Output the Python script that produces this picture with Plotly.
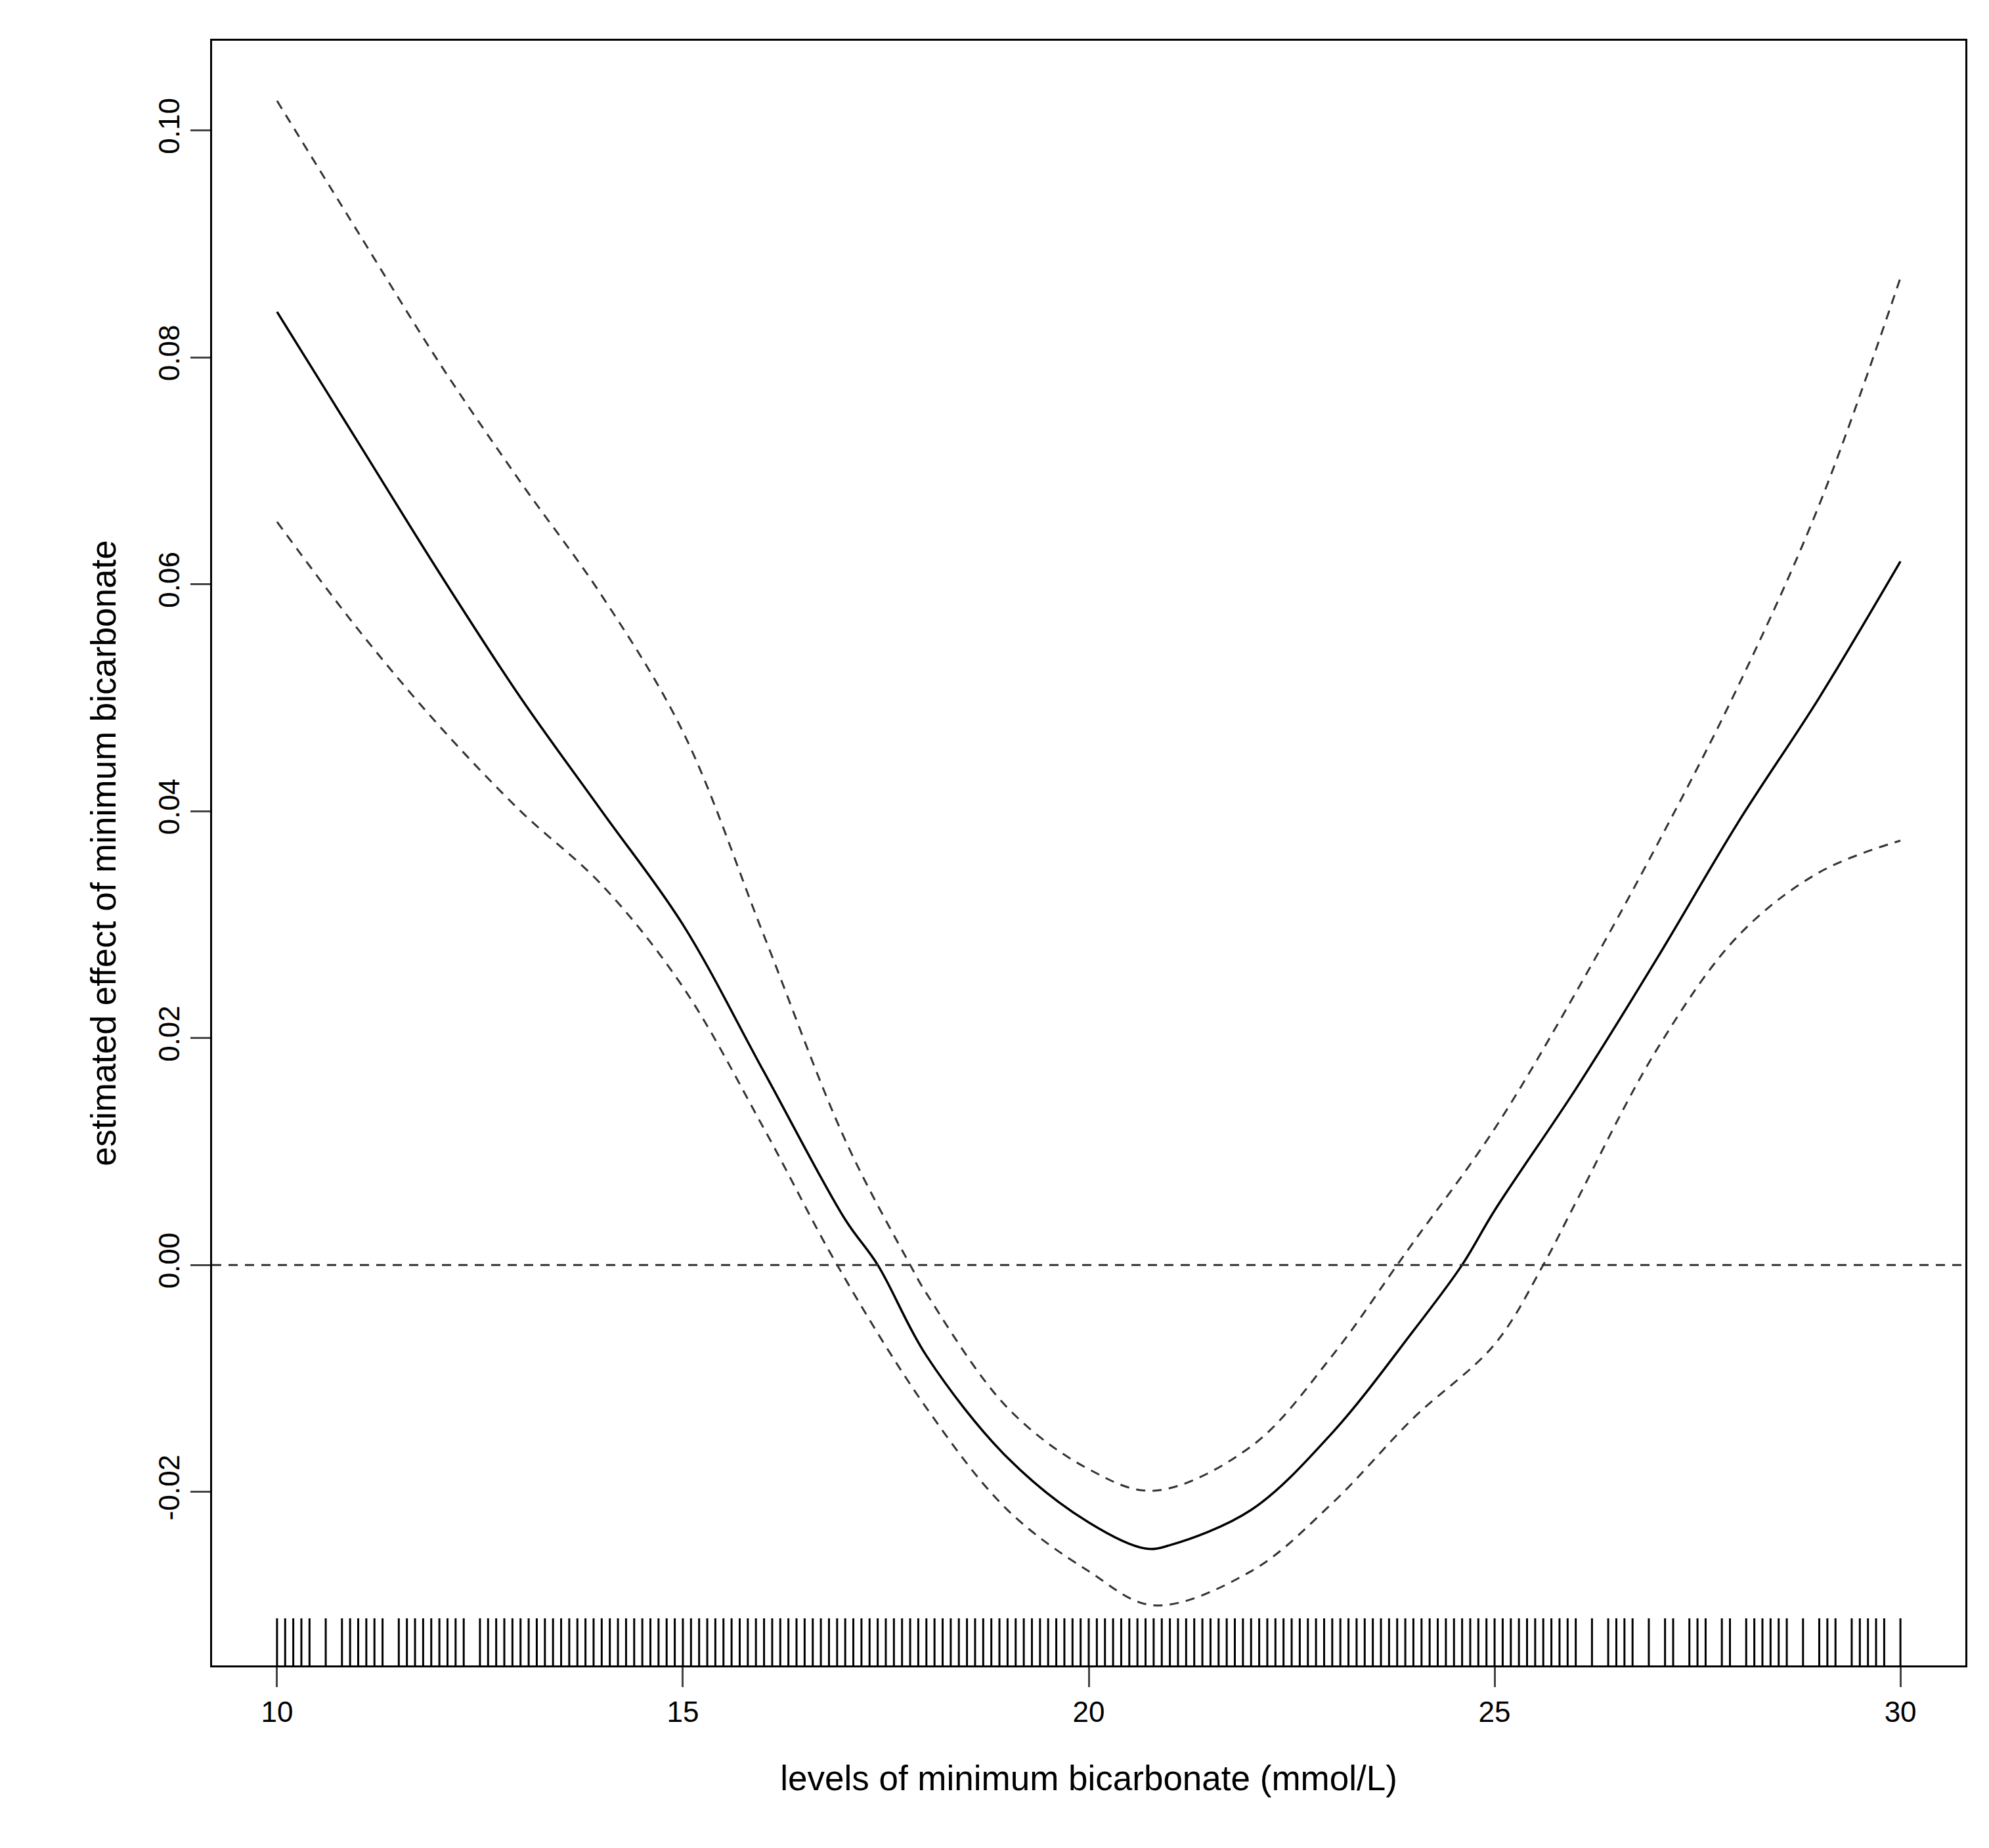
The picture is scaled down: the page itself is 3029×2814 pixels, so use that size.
import plotly.graph_objects as go

# smooth curve readings
x_fit = [10, 11, 12, 13, 14, 15, 16, 17, 17.4, 18, 19, 20, 20.7, 21, 22, 23, 24, 24.6, 25, 26, 27, 28, 29, 30]
y_fit = [0.084, 0.0725, 0.061, 0.050, 0.040, 0.030, 0.017, 0.004, 0.0, -0.008, -0.017, -0.0227, -0.025, -0.0247,
         -0.0216, -0.0148, -0.0058, 0.0, 0.0048, 0.0155, 0.027, 0.039, 0.050, 0.062]

x_up = [10, 11, 12, 13, 14, 15, 16, 17, 17.8, 18, 19, 20, 20.8, 22, 23, 23.8, 24, 25, 26, 27, 28, 29, 30]
y_up = [0.1026, 0.091, 0.0795, 0.069, 0.059, 0.047, 0.029, 0.011, 0.0, -0.0025, -0.0126, -0.018, -0.0199,
        -0.016, -0.008, 0.0, 0.002, 0.012, 0.024, 0.037, 0.051, 0.067, 0.087]

x_lo = [10, 11, 12, 13, 14, 15, 16, 16.9, 18, 19, 20, 20.8, 22, 23, 24, 25, 25.6, 26, 27, 28, 29, 30]
y_lo = [0.0655, 0.056, 0.0475, 0.040, 0.0335, 0.0245, 0.012, 0.0, -0.0126, -0.0216, -0.027, -0.030,
        -0.027, -0.0210, -0.0135, -0.007, 0.0, 0.0055, 0.019, 0.029, 0.0346, 0.0374]

# rug of observed values
rug = [10.0, 10.1, 10.2, 10.3, 10.4, 10.6, 10.8, 10.9, 11.0, 11.1, 11.2, 11.3, 11.5, 11.6, 11.7, 11.8, 11.9,
       12.0, 12.1, 12.2, 12.3, 12.5, 12.6, 12.7, 12.8, 12.9,
       13.0, 13.1, 13.2, 13.3, 13.4, 13.5, 13.6, 13.7, 13.8, 13.9,
       14.0, 14.1, 14.2, 14.3, 14.4, 14.5, 14.6, 14.7, 14.8, 14.9,
       15.0, 15.1, 15.2, 15.3, 15.4, 15.5, 15.6, 15.7, 15.8, 15.9,
       16.0, 16.1, 16.2, 16.3, 16.4, 16.5, 16.6, 16.7, 16.8, 16.9,
       17.0, 17.1, 17.2, 17.3, 17.4, 17.5, 17.6, 17.7, 17.8, 17.9,
       18.0, 18.1, 18.2, 18.3, 18.4, 18.5, 18.6, 18.7, 18.8, 18.9,
       19.0, 19.1, 19.2, 19.3, 19.4, 19.5, 19.6, 19.7, 19.8, 19.9,
       20.0, 20.1, 20.2, 20.3, 20.4, 20.5, 20.6, 20.7, 20.8, 20.9,
       21.0, 21.1, 21.2, 21.3, 21.4, 21.5, 21.6, 21.7, 21.8, 21.9,
       22.0, 22.1, 22.2, 22.3, 22.4, 22.5, 22.6, 22.7, 22.8, 22.9,
       23.0, 23.1, 23.2, 23.3, 23.4, 23.5, 23.6, 23.7, 23.8, 23.9,
       24.0, 24.1, 24.2, 24.3, 24.4, 24.5, 24.6, 24.7, 24.8, 24.9,
       25.0, 25.1, 25.2, 25.3, 25.4, 25.5, 25.6, 25.7, 25.8, 25.9, 26.0,
       26.2, 26.4, 26.5, 26.6, 26.7, 26.9, 27.1, 27.2, 27.4, 27.5, 27.6, 27.8, 27.9,
       28.1, 28.2, 28.3, 28.4, 28.5, 28.6, 28.8, 29.0, 29.1, 29.2, 29.4, 29.5, 29.6, 29.7, 29.8, 30.0]

x_ticks = [10, 15, 20, 25, 30]
y_ticks = [-0.02, 0.00, 0.02, 0.04, 0.06, 0.08, 0.10]
y_labels = ["-0.02", "0.00", "0.02", "0.04", "0.06", "0.08", "0.10"]

FONT = "Liberation Sans, Arial, sans-serif"
dash = "14px,11px"

fig = go.Figure()
fig.add_trace(go.Scatter(x=x_up, y=y_up, mode="lines", line=dict(color="#333", width=3, dash=dash, shape="spline")))
fig.add_trace(go.Scatter(x=x_lo, y=y_lo, mode="lines", line=dict(color="#333", width=3, dash=dash, shape="spline")))
fig.add_trace(go.Scatter(x=x_fit, y=y_fit, mode="lines", line=dict(color="black", width=3.5, shape="spline")))

rx, ry = [], []
for v in rug:
    rx += [v, v, None]
    ry += [0, 0.029, None]
fig.add_trace(go.Scatter(x=rx, y=ry, mode="lines", yaxis="y2", line=dict(color="black", width=3)))

fig.add_hline(y=0, line=dict(color="#333", width=3, dash=dash))

fig.update_layout(
    width=3029, height=2814, showlegend=False,
    paper_bgcolor="white", plot_bgcolor="white",
    margin=dict(l=315, r=44, t=54, b=286),
    font=dict(family=FONT, size=44, color="black"),
    xaxis=dict(range=[9.2, 30.8], tickvals=x_ticks, ticks="outside", ticklen=30, tickwidth=2.5,
               showgrid=False, zeroline=False, showline=True, mirror=True, linecolor="black", linewidth=2.5,
               title=dict(text="levels of minimum bicarbonate (mmol/L)", standoff=60)),
    yaxis=dict(range=[-0.0353, 0.1079], tickvals=y_ticks, ticktext=y_labels, tickangle=-90,
               ticks="outside", ticklen=30, tickwidth=2.5,
               showgrid=False, zeroline=False, showline=True, mirror=True, linecolor="black", linewidth=2.5,
               title=dict(text="estimated effect of minimum bicarbonate", standoff=40)),
    yaxis2=dict(range=[0, 1], overlaying="y", visible=False),
)

fig.write_html("out.html")
